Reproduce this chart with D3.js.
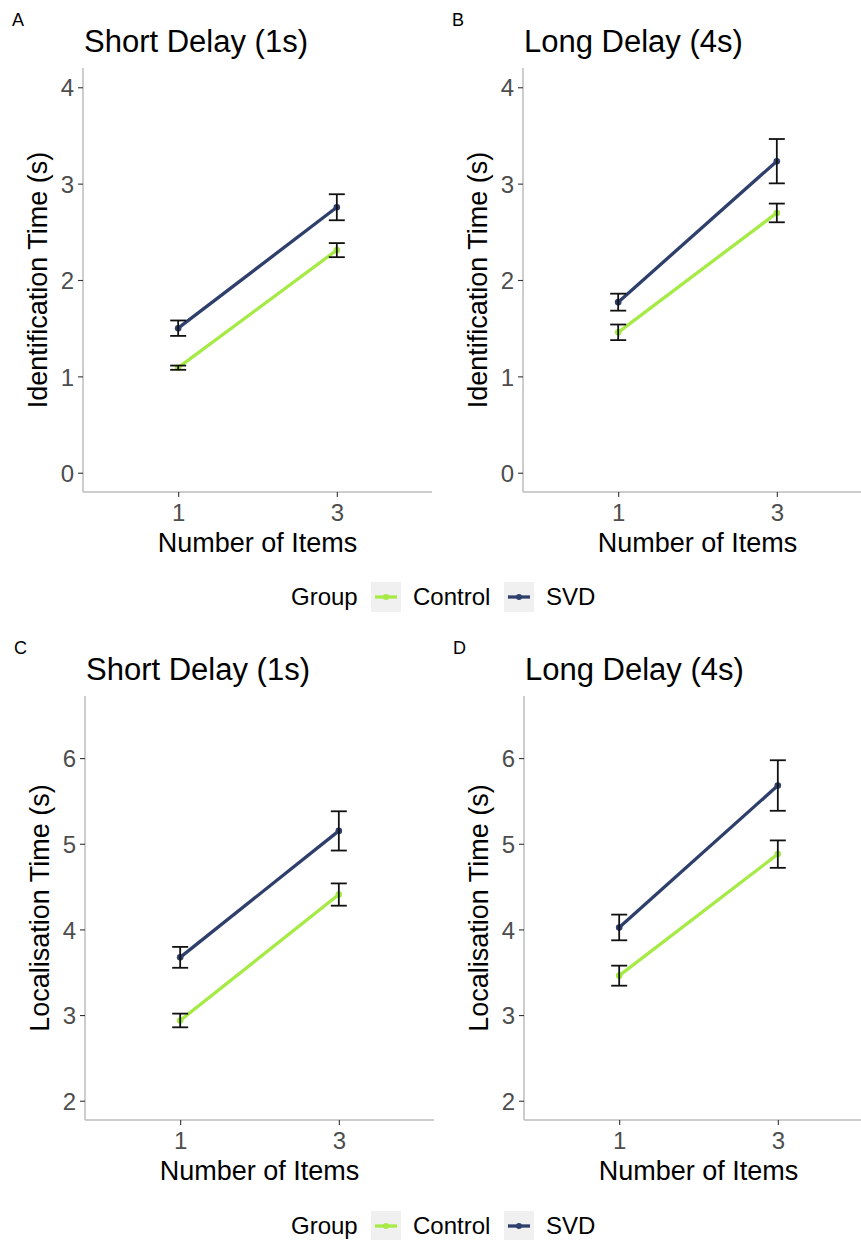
<!DOCTYPE html>
<html>
<head>
<meta charset="utf-8">
<script src="https://cdn.jsdelivr.net/npm/d3@7"></script>
<style>
  body { margin: 0; background: #fff; }
  text { font-family: "Liberation Sans", Arial, sans-serif; }
</style>
</head>
<body>
<div class="chart"></div>
<script>
// data
const items = [1, 3];
const groups = ["Control", "SVD"];
const xTicks = [1, 3];
const idTicks = [0, 1, 2, 3, 4];
const locTicks = [2, 3, 4, 5, 6];

const idShortControl = [1.09, 2.31];
const idShortControlSE = [0.022, 0.073];
const idShortSVD = [1.50, 2.755];
const idShortSVDSE = [0.08, 0.135];

const idLongControl = [1.457, 2.696];
const idLongControlSE = [0.081, 0.097];
const idLongSVD = [1.77, 3.233];
const idLongSVDSE = [0.088, 0.23];

const locShortControl = [2.937, 4.407];
const locShortControlSE = [0.08, 0.13];
const locShortSVD = [3.674, 5.15];
const locShortSVDSE = [0.122, 0.229];

const locLongControl = [3.46, 4.879];
const locLongControlSE = [0.117, 0.16];
const locLongSVD = [4.023, 5.68];
const locLongSVDSE = [0.15, 0.295];

const colors = {Control: "#a6ea45", SVD: "#2f3f6b"};

const svg = d3.select(".chart").append("svg")
    .attr("width", 861)
    .attr("height", 1240)
    .style("display", "block");

svg.append("rect").attr("width", 861).attr("height", 1240).attr("fill", "#fff");

function rows(ctrl, ctrlSE, svd, svdSE) {
    return [
        {group: "Control", values: items.map((x, i) => ({x: x, y: ctrl[i], se: ctrlSE[i]}))},
        {group: "SVD", values: items.map((x, i) => ({x: x, y: svd[i], se: svdSE[i]}))}
    ];
}

function renderPanel(opt) {
    const g = svg.append("g");
    const xScale = d3.scaleLinear().domain([-0.2, 4.2]).range([opt.left, opt.left + 349]);
    const yScale = d3.scaleLinear().domain(opt.yDomain).range([opt.bottom, opt.top]);

    // letter + title
    g.append("text").attr("x", opt.left - 71).attr("y", opt.top - 42)
        .attr("font-size", "18px").attr("fill", "#000").text(opt.letter);
    g.append("text").attr("x", opt.left + 1).attr("y", opt.top - 16)
        .attr("font-size", "31px").attr("fill", "#000").text(opt.title);

    // axes
    const xAxis = d3.axisBottom(xScale).tickValues(xTicks).tickFormat(d3.format("d"))
        .tickSize(5).tickPadding(4);
    const gx = g.append("g").attr("transform", `translate(0,${opt.bottom})`).call(xAxis);
    const yAxis = d3.axisLeft(yScale).tickValues(opt.yTicks).tickFormat(d3.format("d"))
        .tickSize(5).tickPadding(4);
    const gy = g.append("g").attr("transform", `translate(${opt.left},0)`).call(yAxis);

    [gx, gy].forEach(a => {
        a.attr("font-size", null).attr("font-family", null);
        a.select(".domain").attr("stroke", "#bdbdbd").attr("stroke-width", 1.5);
        a.selectAll(".tick line").attr("stroke", "#333").attr("stroke-width", 1.1);
        a.selectAll(".tick text").style("font-size", "24px").attr("fill", "#4d4d4d");
    });
    gx.select(".domain").attr("d", `M${opt.left},0H${xScale(4.2)}`);
    gy.select(".domain").attr("d", `M0,${opt.bottom}V${opt.top}`);
    gx.selectAll(".tick text").attr("dy", "0.85em");
    gy.selectAll(".tick text").attr("dy", "0.36em");

    g.append("text")
        .attr("x", (opt.left + xScale(4.2)) / 2).attr("y", opt.bottom + 60)
        .attr("text-anchor", "middle").attr("font-size", "27px").text("Number of Items");
    g.append("text")
        .attr("transform", `translate(${opt.left - 36},${(opt.top + opt.bottom) / 2}) rotate(-90)`)
        .attr("text-anchor", "middle").attr("font-size", "27px").text(opt.yTitle);

    const line = d3.line().x(d => xScale(d.x)).y(d => yScale(d.y));

    g.selectAll(".series")
        .data(opt.data)
        .enter()
        .append("path")
        .attr("class", "series")
        .attr("d", d => line(d.values))
        .attr("fill", "none")
        .attr("stroke", d => colors[d.group])
        .attr("stroke-width", 3.3);

    g.selectAll(".dots")
        .data(opt.data)
        .enter()
        .append("g")
        .selectAll("circle")
        .data(d => d.values.map(v => Object.assign({group: d.group}, v)))
        .enter()
        .append("circle")
        .attr("cx", d => xScale(d.x))
        .attr("cy", d => yScale(d.y))
        .attr("r", 3.3)
        .attr("fill", d => colors[d.group]);

    const errs = opt.data.flatMap(d => d.values);
    const eb = g.selectAll(".err").data(errs).enter().append("g").attr("class", "err")
        .attr("stroke", "#111").attr("stroke-width", 1.8).attr("fill", "none");
    eb.append("line")
        .attr("x1", d => xScale(d.x)).attr("x2", d => xScale(d.x))
        .attr("y1", d => yScale(d.y - d.se)).attr("y2", d => yScale(d.y + d.se));
    eb.append("line")
        .attr("x1", d => xScale(d.x) - 8).attr("x2", d => xScale(d.x) + 8)
        .attr("y1", d => yScale(d.y + d.se)).attr("y2", d => yScale(d.y + d.se));
    eb.append("line")
        .attr("x1", d => xScale(d.x) - 8).attr("x2", d => xScale(d.x) + 8)
        .attr("y1", d => yScale(d.y - d.se)).attr("y2", d => yScale(d.y - d.se));
}

function renderLegend(y) {
    const lg = svg.append("g").attr("transform", `translate(0,${y})`);
    lg.append("text").attr("x", 291).attr("y", 23).attr("font-size", "24px").text("Group");
    const keys = lg.selectAll(".key").data(groups).enter().append("g").attr("class", "key")
        .attr("transform", (d, i) => `translate(${371 + i * 133},0)`);
    keys.append("rect").attr("width", 30).attr("height", 30).attr("fill", "#f0f0f0");
    keys.append("line").attr("x1", 4).attr("x2", 26).attr("y1", 15).attr("y2", 15)
        .attr("stroke", d => colors[d]).attr("stroke-width", 3.3);
    keys.append("circle").attr("cx", 15).attr("cy", 15).attr("r", 3).attr("fill", d => colors[d]);
    keys.append("text").attr("x", 42).attr("y", 23).attr("font-size", "24px").text(d => d);
}

renderPanel({letter: "A", title: "Short Delay (1s)", left: 83, top: 68, bottom: 492,
    yDomain: [-0.2, 4.2], yTicks: idTicks, yTitle: "Identification Time (s)",
    data: rows(idShortControl, idShortControlSE, idShortSVD, idShortSVDSE)});
renderPanel({letter: "B", title: "Long Delay (4s)", left: 523, top: 68, bottom: 492,
    yDomain: [-0.2, 4.2], yTicks: idTicks, yTitle: "Identification Time (s)",
    data: rows(idLongControl, idLongControlSE, idLongSVD, idLongSVDSE)});
renderPanel({letter: "C", title: "Short Delay (1s)", left: 85, top: 696, bottom: 1120,
    yDomain: [1.775, 6.725], yTicks: locTicks, yTitle: "Localisation Time (s)",
    data: rows(locShortControl, locShortControlSE, locShortSVD, locShortSVDSE)});
renderPanel({letter: "D", title: "Long Delay (4s)", left: 524, top: 696, bottom: 1120,
    yDomain: [1.775, 6.725], yTicks: locTicks, yTitle: "Localisation Time (s)",
    data: rows(locLongControl, locLongControlSE, locLongSVD, locLongSVDSE)});

renderLegend(582);
renderLegend(1211);
</script>
</body>
</html>
